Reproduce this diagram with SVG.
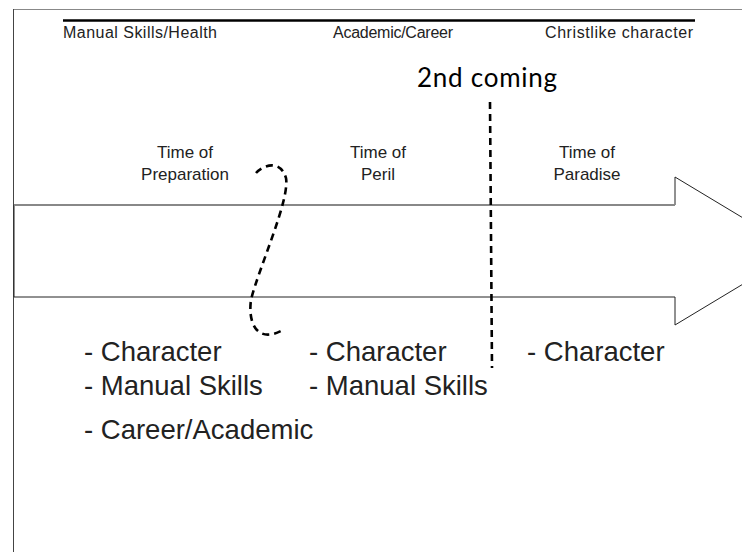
<svg xmlns="http://www.w3.org/2000/svg" width="742" height="552" viewBox="0 0 742 552">
<style>
.hdr{font-family:"Liberation Sans",Arial,sans-serif;font-size:16px;fill:#222}
.time{font-family:"Liberation Sans",Arial,sans-serif;font-size:17px;fill:#222;text-anchor:middle}
.item{font-family:"Liberation Sans",Arial,sans-serif;font-size:27.5px;fill:#222}
.dash{fill:none;stroke:#000;stroke-width:2.6;stroke-dasharray:7 5}
</style>
<rect width="742" height="552" fill="#fff"/>
<g id="frame">
<line x1="13" y1="9.5" x2="742" y2="9.5" stroke="#888" stroke-width="1"/>
<line x1="13.5" y1="9" x2="13.5" y2="552" stroke="#444" stroke-width="1"/>
<line x1="63" y1="20.5" x2="695" y2="20.5" stroke="#000" stroke-width="2.5"/>
</g>
<g id="headers">
<text class="hdr" x="63" y="38" textLength="154">Manual Skills/Health</text>
<text class="hdr" x="333" y="38" textLength="120">Academic/Career</text>
<text class="hdr" x="545" y="38" textLength="148">Christlike character</text>
</g>
<g id="arrow">
<polygon points="14,205 675,205 675,177 798,251 675,325 675,297 14,297" fill="#fff" stroke="#222" stroke-width="1"/>
<line x1="14" y1="205" x2="675" y2="205" stroke="#888" stroke-width="2"/>
</g>
<g id="second-coming">
<text x="487" y="87" font-family="Lato,'Open Sans',sans-serif" font-size="26" fill="#000" text-anchor="middle" textLength="140">2nd coming</text>
</g>
<g id="connectors">
<line class="dash" x1="490" y1="102" x2="492" y2="368"/>
<path class="dash" d="M256,173 C262,166 280,158 286,178 C290,200 258,270 251,300 C248,320 255,345 283,330"/>
</g>
<g id="preparation">
<text class="time" x="185" y="158">Time of</text>
<text class="time" x="185" y="180">Preparation</text>
<text class="item" x="84" y="361">- Character</text>
<text class="item" x="84" y="395">- Manual Skills</text>
<text class="item" x="84" y="439">- Career/Academic</text>
</g>
<g id="peril">
<text class="time" x="378" y="158">Time of</text>
<text class="time" x="378" y="180">Peril</text>
<text class="item" x="309" y="361">- Character</text>
<text class="item" x="309" y="395">- Manual Skills</text>
</g>
<g id="paradise">
<text class="time" x="587" y="158">Time of</text>
<text class="time" x="587" y="180">Paradise</text>
<text class="item" x="527" y="361">- Character</text>
</g>
</svg>
